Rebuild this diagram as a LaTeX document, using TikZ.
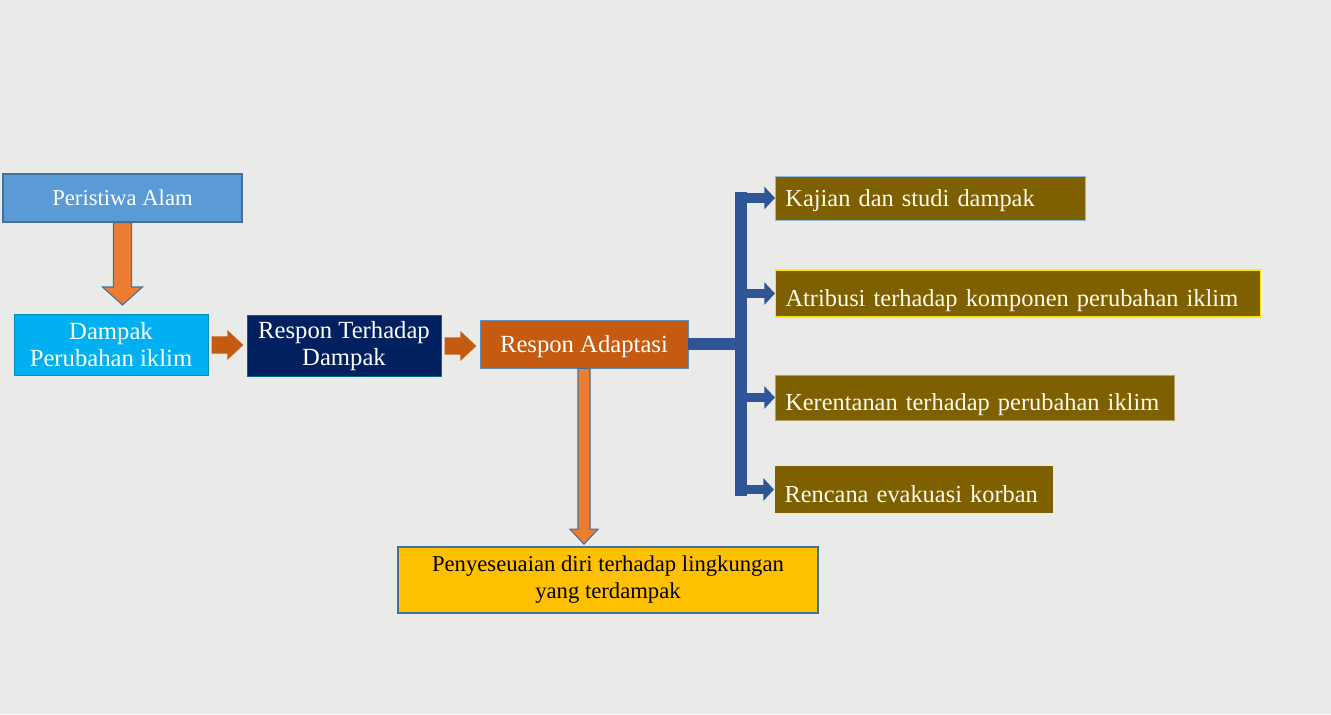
\documentclass[tikz,border=0pt]{standalone}
\usepackage{fontspec}
\setmainfont{Liberation Serif}
\usetikzlibrary{calc,arrows.meta}
\definecolor{bg}{RGB}{234,234,232}
\definecolor{pa}{RGB}{91,155,213}
\definecolor{pab}{RGB}{65,113,156}
\definecolor{cyanbox}{RGB}{0,176,240}
\definecolor{navy}{RGB}{0,32,96}
\definecolor{rust}{RGB}{197,90,17}
\definecolor{orng}{RGB}{237,125,49}
\definecolor{gold}{RGB}{255,192,0}
\definecolor{brownfill}{RGB}{127,96,0}
\definecolor{busblue}{RGB}{47,85,151}
\definecolor{cream}{RGB}{255,250,236}
\newcommand\bdown[7]{\draw[#7] let \p1=(#1), \p2=(#2) in
 (\x1-#3,\y1) -- (\x1-#3,\y2+#6+#5) -- (\x1-#4,\y2+#6+#5) -- (\x1,\y2+#6) -- (\x1+#4,\y2+#6+#5) -- (\x1+#3,\y2+#6+#5) -- (\x1+#3,\y1) -- cycle;}
\newcommand\bright[7]{\draw[#7] let \p1=(#1), \p2=(#2) in
 (\x1+#6,\y1-#3) -- (\x2-#6-#5,\y1-#3) -- (\x2-#6-#5,\y1-#4) -- (\x2-#6,\y1) -- (\x2-#6-#5,\y1+#4) -- (\x2-#6-#5,\y1+#3) -- (\x1+#6,\y1+#3) -- cycle;}
\tikzset{
 box/.style={rectangle, inner sep=0pt, align=center, text=white, line width=0.8pt,
   font=\fontsize{18.5}{20.25}\selectfont},
 brownbox/.style={box, fill=brownfill, anchor=west, align=left, text=cream, inner xsep=7.5pt,
   font=\fontsize{18.3}{20.25}\selectfont, text depth=2pt},
 highbase/.style={text height=14pt},
 lowbase/.style={text height=21pt},
 orangearrow/.style={fill=orng, draw=pab, line width=0.8pt, line join=miter},
 rustarrow/.style={fill=rust, draw=none},
 busline/.style={draw=busblue, line width=9pt},
 branch/.style={draw=busblue, line width=7pt, -{Triangle[length=8pt,width=16.5pt]}, color=busblue}
}
\begin{document}
\begin{tikzpicture}[x=0.75pt,y=-0.75pt]
\fill[bg] (0,0) rectangle (1331,714);
\useasboundingbox (0,0) rectangle (1331,714);

\node[box, fill=pa, draw=pab, minimum width=179.25pt, minimum height=36pt,
  font=\fontsize{17}{20}\selectfont] (pa) at (122.5,198) {Peristiwa Alam};
\node[box, fill=cyanbox, draw=cyanbox!80!black, line width=0.5pt, minimum width=145.5pt, minimum height=46pt] (dp) at (111,345) {Dampak\\Perubahan iklim};
\node[box, fill=navy, draw=navy!70!cyan, line width=0.5pt, minimum width=145.5pt, minimum height=46pt] (rt) at (344,346) {Respon Terhadap\\Dampak};
\node[box, fill=rust, draw=pab!80, line width=0.5pt, minimum width=156pt, minimum height=36pt,
  text height=14pt, text depth=2pt] (ra) at (584,344) {Respon Adaptasi};
\node[box, fill=gold, draw=pab, line width=1.2pt, text=black, minimum width=315pt, minimum height=49.5pt,
  font=\fontsize{17}{20.25}\selectfont] (ps) at (608,580) {Penyeseuaian diri terhadap lingkungan\\yang terdampak};

\node[brownbox, highbase, draw=pa!70!white, line width=0.6pt, minimum height=33pt, text width=217.5pt] (k1) at (775,198) {Kajian dan studi dampak};
\node[brownbox, lowbase, draw=yellow!90!orange, line width=0.8pt, minimum height=35.25pt, text width=348.75pt] (k2) at (775,293.5) {Atribusi terhadap komponen perubahan iklim};
\node[brownbox, lowbase, draw=brownfill!60!white, line width=0.4pt, minimum height=33.75pt, text width=284.25pt] (k3) at (775,397.5) {Kerentanan terhadap perubahan iklim};
\node[brownbox, lowbase, minimum height=35.25pt, text width=193.5pt] (k4) at (774,489.5) {Rencana evakuasi korban};

% orange block arrows
\bdown{pa.south}{dp.north}{6.75pt}{15pt}{13.5pt}{6.75pt}{orangearrow}
\bdown{ra.south}{ps.north}{4.5pt}{10.5pt}{11.25pt}{1.5pt}{orangearrow}
\bright{dp.east}{rt.west}{6.4pt}{11.25pt}{12pt}{2.5pt}{rustarrow}
\bright{rt.east}{ra.west}{6.4pt}{11.25pt}{12pt}{2.5pt}{rustarrow}

% blue bus
\coordinate (bus) at (741,346);
\draw[busline] (ra.east) -- (ra.east -| bus);
\draw[busline, line cap=rect] (bus |- k1.west) -- (bus |- k4.west);
\draw[branch] (bus |- k1.west) -- (k1.west);
\draw[branch] (bus |- k2.west) -- (k2.west);
\draw[branch] (bus |- k3.west) -- (k3.west);
\draw[branch] (bus |- k4.west) -- (k4.west);
\end{tikzpicture}
\end{document}
